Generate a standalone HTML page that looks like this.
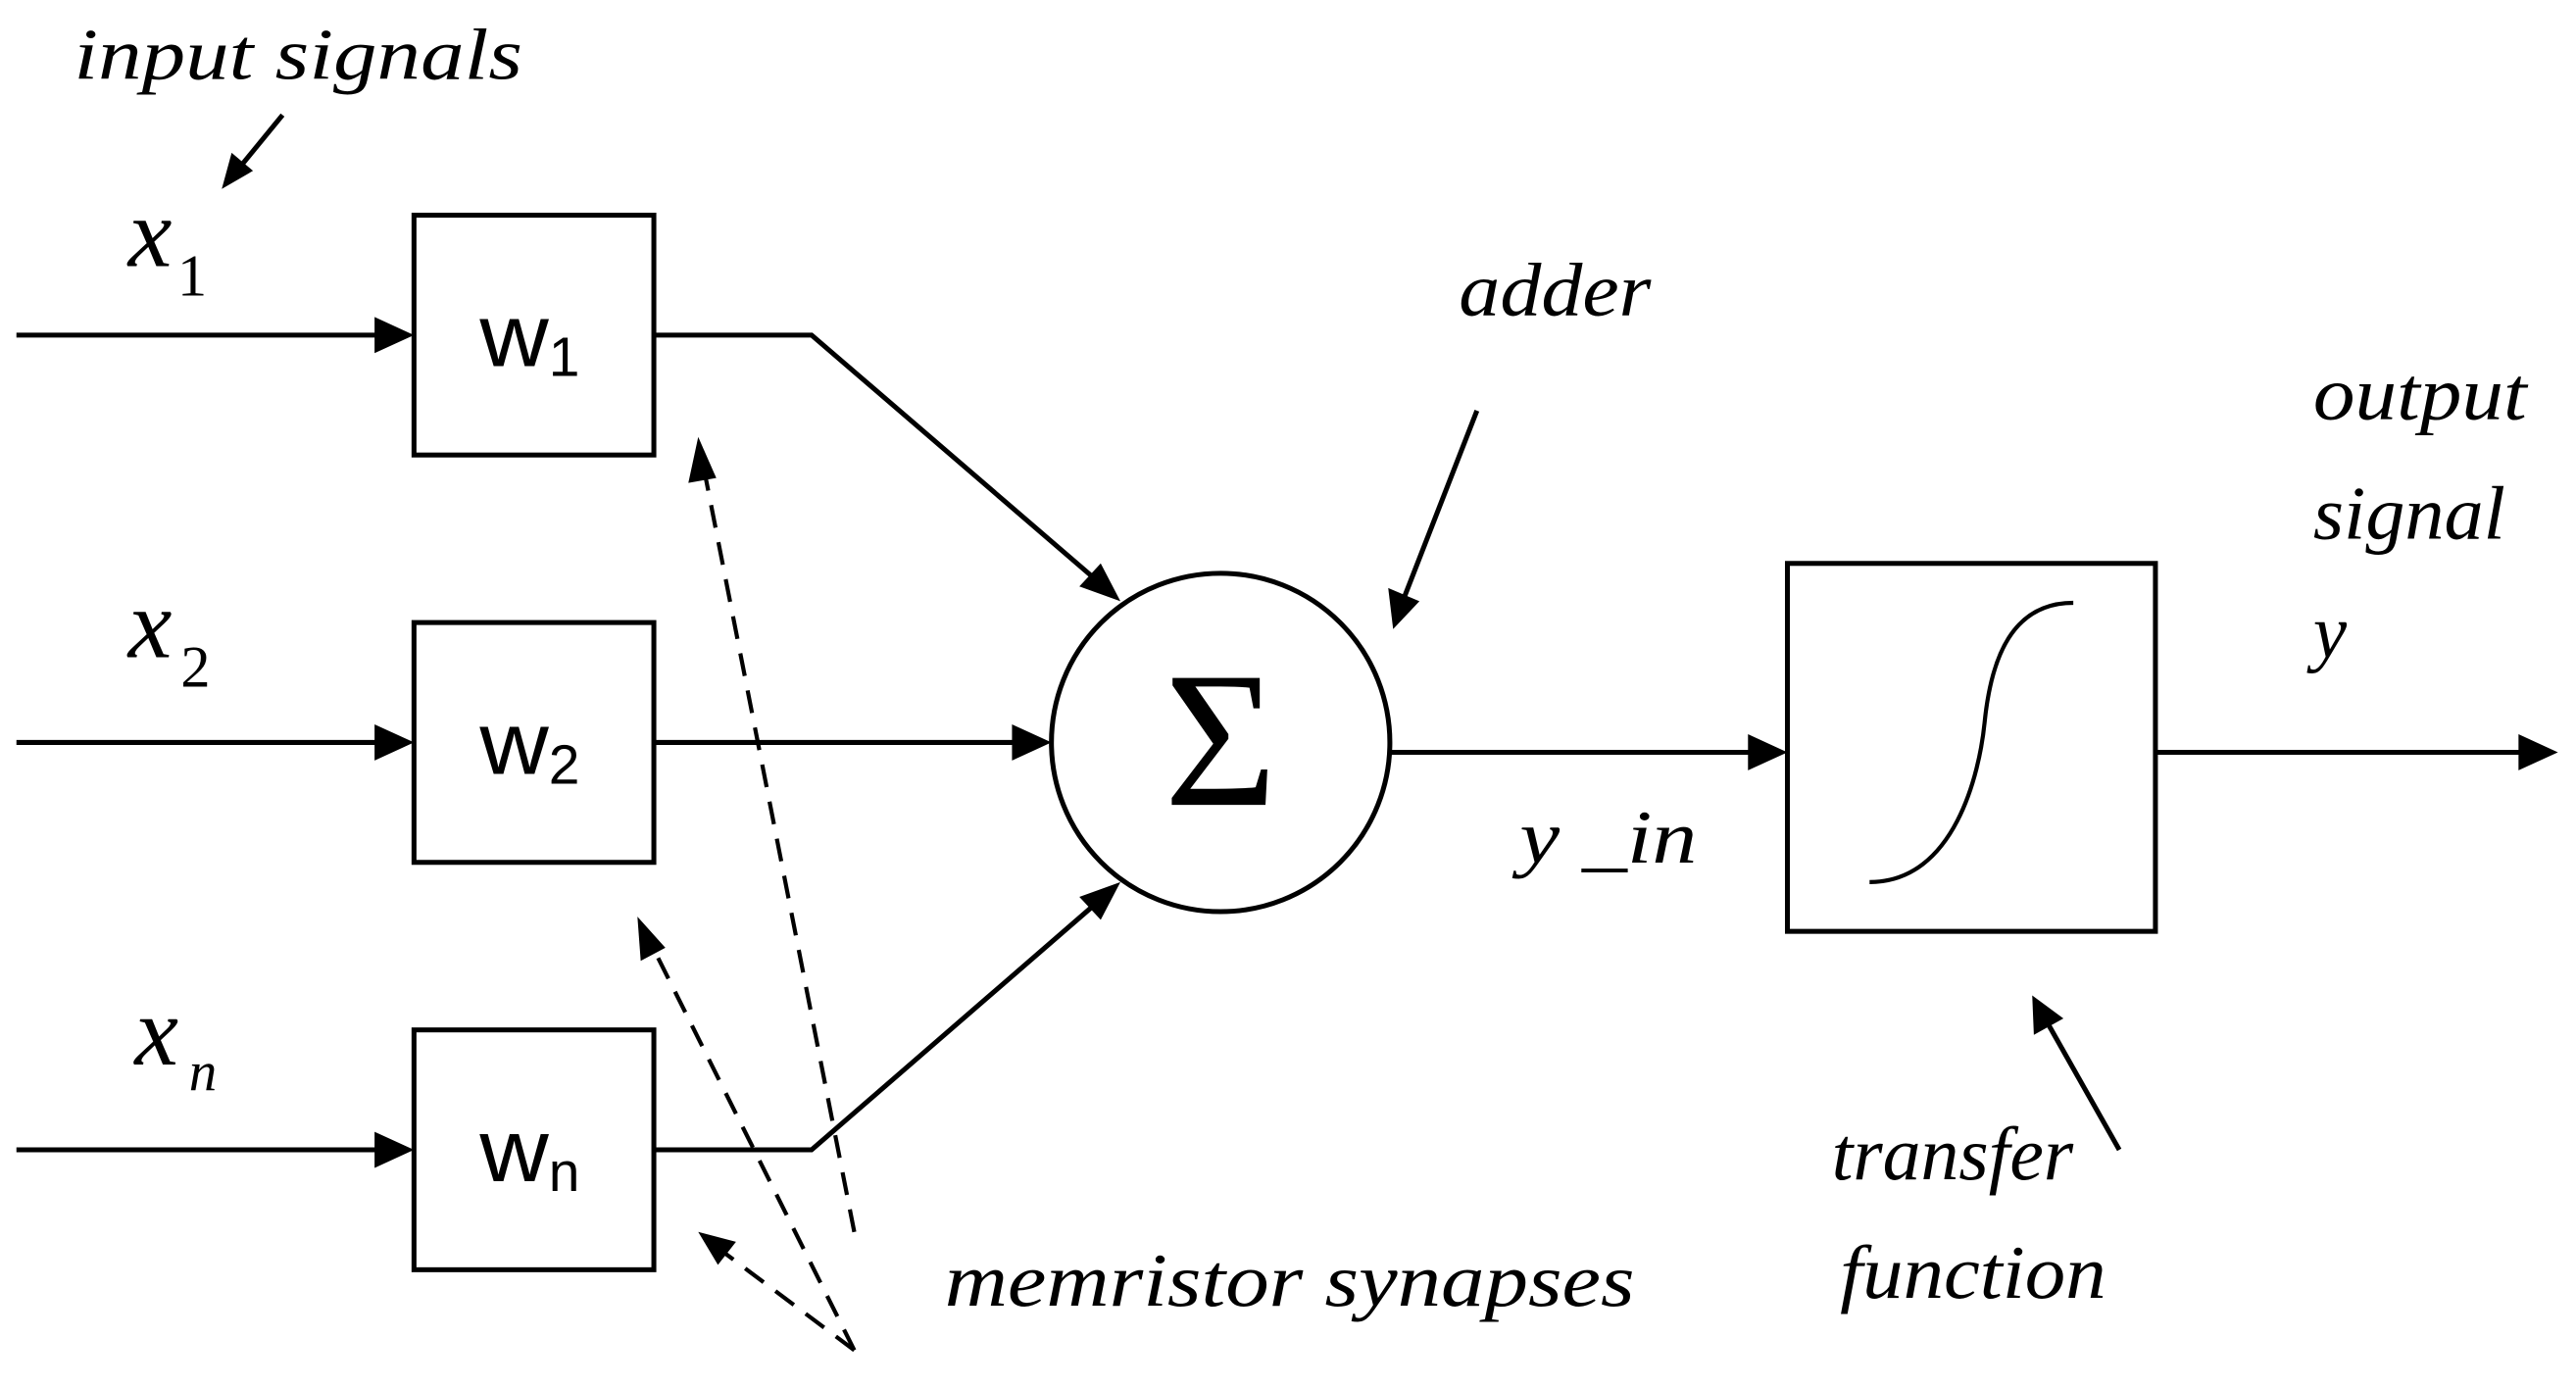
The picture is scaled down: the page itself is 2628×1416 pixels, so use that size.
<!DOCTYPE html>
<html><head><meta charset="utf-8"><style>
html,body{margin:0;padding:0;background:#fff;}
svg{display:block;}
text{font-family:"Liberation Serif",serif;font-style:italic;fill:#000;}
.s{font-family:"Liberation Sans",sans-serif;font-style:normal;}
</style></head><body>
<svg width="2628" height="1416" viewBox="0 0 1568 845" preserveAspectRatio="none" xmlns="http://www.w3.org/2000/svg">
<g stroke="#000" stroke-width="3" fill="none">
<line x1="10" y1="204" x2="232" y2="204"/>
<line x1="10" y1="452" x2="232" y2="452"/>
<line x1="10" y1="700" x2="232" y2="700"/>
<rect x="252" y="131" width="146" height="146"/>
<rect x="252" y="379" width="146" height="146"/>
<rect x="252" y="627" width="146" height="146"/>
<polyline points="398,204 494,204 666,352"/>
<line x1="398" y1="452" x2="618" y2="452"/>
<polyline points="398,700 494,700 666,551"/>
<circle cx="743" cy="452" r="103"/>
<line x1="846" y1="458" x2="1068" y2="458"/>
<rect x="1088" y="343" width="224" height="224"/>
<path d="M1138,537 C1190,537 1205,470 1208,440 C1212,400 1225,367 1262,367" stroke-width="2.5"/>
<line x1="1312" y1="458" x2="1535" y2="458"/>
<line x1="172" y1="70" x2="145" y2="103"/>
<line x1="899" y1="250" x2="855" y2="363"/>
<line x1="1290" y1="700" x2="1247" y2="624"/>
<g stroke-dasharray="14,9" stroke-width="2.5">
<line x1="520" y1="750" x2="429" y2="288"/>
<line x1="520" y1="822" x2="398" y2="578"/>
<line x1="520" y1="822" x2="440" y2="762"/>
</g>
</g>
<g fill="#000">
<polygon points="252,204 228,193 228,215"/>
<polygon points="252,452 228,441 228,463"/>
<polygon points="252,700 228,689 228,711"/>
<polygon points="682,366 657,357 670,343"/>
<polygon points="640,452 616,441 616,463"/>
<polygon points="682,537 670,560 657,546"/>
<polygon points="1088,458 1064,447 1064,469"/>
<polygon points="1557,458 1533,447 1533,469"/>
<polygon points="135,115 141,93 154,104"/>
<polygon points="848,383 845,358 864,366"/>
<polygon points="1237,606 1256,620 1238,630"/>
<polygon points="425,266 436,291 419,294"/>
<polygon points="388,558 405,577 390,585"/>
<polygon points="425,750 448,756 437,770"/>
</g>
<text x="45" y="48" font-size="44" textLength="273" lengthAdjust="spacingAndGlyphs">input signals</text>
<text x="78" y="162" font-size="60">x</text><text x="108" y="180" font-size="36" style="font-style:normal">1</text>
<text x="78" y="400" font-size="60">x</text><text x="110" y="418" font-size="36" style="font-style:normal">2</text>
<text x="82" y="648" font-size="60">x</text><text x="115" y="664" font-size="34">n</text>
<text class="s" x="292" y="223" font-size="54" textLength="42" lengthAdjust="spacingAndGlyphs">w</text><text class="s" x="334" y="229" font-size="34">1</text>
<text class="s" x="292" y="471" font-size="54" textLength="42" lengthAdjust="spacingAndGlyphs">w</text><text class="s" x="334" y="477" font-size="34">2</text>
<text class="s" x="292" y="719" font-size="54" textLength="42" lengthAdjust="spacingAndGlyphs">w</text><text class="s" x="334" y="725" font-size="34">n</text>
<text x="743" y="490" font-size="118" text-anchor="middle" style="font-style:normal">Σ</text>
<text x="888" y="192" font-size="46" textLength="117" lengthAdjust="spacingAndGlyphs">adder</text>
<text x="1408" y="255" font-size="46" textLength="130" lengthAdjust="spacingAndGlyphs">output</text>
<text x="1408" y="328" font-size="46" textLength="117" lengthAdjust="spacingAndGlyphs">signal</text>
<text x="1408" y="400" font-size="46">y</text>
<text x="925" y="525" font-size="46" textLength="108" lengthAdjust="spacingAndGlyphs">y _in</text>
<text x="1115" y="718" font-size="46" textLength="147" lengthAdjust="spacingAndGlyphs">transfer</text>
<text x="1120" y="790" font-size="46" textLength="162" lengthAdjust="spacingAndGlyphs">function</text>
<text x="575" y="795" font-size="46" textLength="420" lengthAdjust="spacingAndGlyphs">memristor synapses</text>
</svg>
</body></html>
